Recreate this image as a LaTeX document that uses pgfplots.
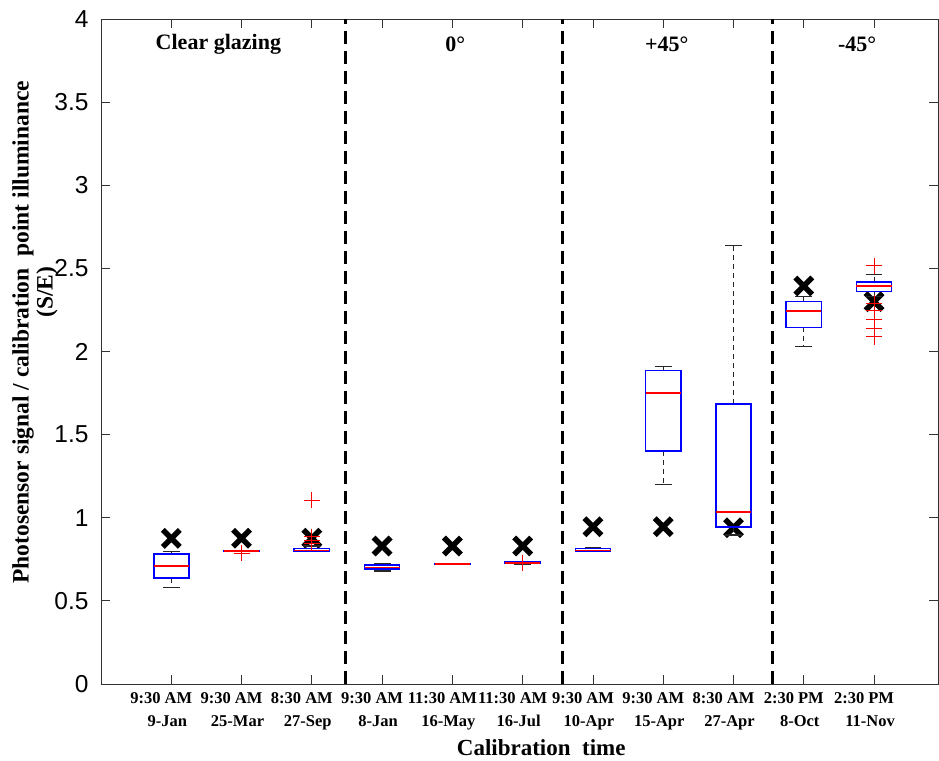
\documentclass[border=0pt]{standalone}
\usepackage{fontspec}
\setmainfont{Liberation Serif}
\newfontfamily\arialfont{Liberation Sans}
\usepackage{pgfplots}
\pgfplotsset{compat=1.18}
\usepgfplotslibrary{statistics}

\pgfplotsset{
  boxplot/draw/whisker/.code 2 args={%
    \draw[black!85, dash pattern=on 5pt off 4pt, line width=0.9pt]
      (boxplot box cs:#1,0.5) --
      (boxplot box cs:#2,0.5);
    \draw[black!85, line width=1.2pt]
      (boxplot whisker cs:#2,0) --
      (boxplot whisker cs:#2,1);
  },
  mybox/.style={color=blue, draw=blue, solid, mark=+, mark size=8pt,
     mark options={red, line width=0.9pt, solid},
     boxplot/draw direction=y,
     boxplot/every box/.style={draw=blue, line width=1.6pt},
     boxplot/every median/.style={draw=red, line width=1.6pt},
     boxplot/box extend=0.5, boxplot/whisker extend=0.24},
}

\begin{document}
\begin{tikzpicture}
\begin{axis}[
  scale only axis, width=837pt, height=665pt,
  xmin=0, xmax=11.91, ymin=0, ymax=4,
  clip mode=individual,
  xtick={1,2,3,4,5,6,7,8,9,10,11},
  xticklabels={{9:30 AM\hspace*{12pt}\\9-Jan},{9:30 AM\hspace*{12pt}\\25-Mar},{8:30 AM\hspace*{12pt}\\27-Sep},{9:30 AM\hspace*{12pt}\\8-Jan},{11:30 AM\hspace*{12pt}\\16-May},{11:30 AM\hspace*{12pt}\\16-Jul},{9:30 AM\hspace*{12pt}\\10-Apr},{9:30 AM\hspace*{12pt}\\15-Apr},{8:30 AM\hspace*{12pt}\\27-Apr},{2:30 PM\hspace*{12pt}\\8-Oct},{2:30 PM\hspace*{12pt}\\11-Nov}},
  xticklabel style={align=center, font=\bfseries\fontsize{16.5}{23}\selectfont, xshift=-4pt, yshift=-5pt},
  ytick={0,0.5,1,1.5,2,2.5,3,3.5,4},
  yticklabels={0,0.5,1,1.5,2,2.5,3,3.5,4},
  yticklabel style={font=\arialfont\fontsize{24.5}{24.5}\selectfont},
  yticklabel shift=9pt,
  /pgf/number format/assume math mode=true,
  major tick length=9pt,
  every tick/.style={black!80, line width=0.8pt},
  axis line style={black!80, line width=0.8pt},
  xlabel={Calibration\ \ time},
  xlabel style={font=\bfseries\fontsize{23}{23}\selectfont, at={(rel axis cs:0.526,0)}, anchor=center, yshift=-64pt},
  ylabel={Photosensor signal / calibration\ \ point illuminance\\\hspace*{80pt}(S/E)},
  ylabel style={font=\bfseries\fontsize{23.5}{24}\selectfont, align=center, at={(rel axis cs:0,0.529)}, anchor=center, yshift=66pt},
]
% group separators
\addplot[black, line width=2.8pt, dash pattern=on 13pt off 7pt] coordinates {(3.48,0) (3.48,4)};
\addplot[black, line width=2.8pt, dash pattern=on 13pt off 7pt] coordinates {(6.57,0) (6.57,4)};
\addplot[black, line width=2.8pt, dash pattern=on 13pt off 7pt] coordinates {(9.55,0) (9.55,4)};

% calibration point markers
\addplot[only marks, mark=x, mark size=12pt, line width=5.5pt, black] coordinates {
(1,0.876) (2,0.877) (3,0.877) (4,0.83) (5,0.83) (6,0.83) (7,0.946) (8,0.946) (9,0.94) (10,2.394) (11,2.30)};

% box plots
\addplot[mybox, boxplot prepared={draw position=1, lower whisker=0.58, lower quartile=0.636, median=0.71, upper quartile=0.782, upper whisker=0.798}] coordinates {};
\addplot[mybox, boxplot prepared={draw position=2, lower whisker=0.798, lower quartile=0.799, median=0.80, upper quartile=0.801, upper whisker=0.802}] table[row sep=\\, y index=0] {data\\0.785\\};
\addplot[mybox, boxplot prepared={draw position=3, lower whisker=0.797, lower quartile=0.798, median=0.804, upper quartile=0.814, upper whisker=0.83}] table[row sep=\\, y index=0] {data\\1.105\\0.886\\0.866\\0.846\\};
\addplot[mybox, boxplot prepared={draw position=4, lower whisker=0.68, lower quartile=0.69, median=0.70, upper quartile=0.714, upper whisker=0.725}] coordinates {};
\addplot[mybox, boxplot prepared={draw position=5, lower whisker=0.72, lower quartile=0.721, median=0.723, upper quartile=0.725, upper whisker=0.726}] coordinates {};
\addplot[mybox, boxplot prepared={draw position=6, lower whisker=0.722, lower quartile=0.725, median=0.727, upper quartile=0.733, upper whisker=0.738}] table[row sep=\\, y index=0] {data\\0.725\\};
\addplot[mybox, boxplot prepared={draw position=7, lower whisker=0.80, lower quartile=0.80, median=0.804, upper quartile=0.816, upper whisker=0.82}] coordinates {};
\addplot[mybox, boxplot prepared={draw position=8, lower whisker=1.20, lower quartile=1.40, median=1.752, upper quartile=1.885, upper whisker=1.91}] coordinates {};
\addplot[mybox, boxplot prepared={draw position=9, lower whisker=0.896, lower quartile=0.946, median=1.036, upper quartile=1.686, upper whisker=2.636}] coordinates {};
\addplot[mybox, boxplot prepared={draw position=10, lower whisker=2.03, lower quartile=2.145, median=2.245, upper quartile=2.30, upper whisker=2.33}] coordinates {};
\addplot[mybox, boxplot prepared={draw position=11, lower whisker=2.33, lower quartile=2.36, median=2.394, upper quartile=2.418, upper whisker=2.465}] table[row sep=\\, y index=0] {data\\2.515\\2.29\\2.245\\2.193\\2.14\\2.089\\};

% group labels
\node[font=\bfseries\fontsize{22}{22}\selectfont] at (axis cs:1.67,3.85) {Clear glazing};
\node[font=\bfseries\fontsize{22}{22}\selectfont] at (axis cs:5.04,3.85) {0°};
\node[font=\bfseries\fontsize{22}{22}\selectfont] at (axis cs:8.05,3.85) {+45°};
\node[font=\bfseries\fontsize{22}{22}\selectfont] at (axis cs:10.76,3.85) {-45°};
\end{axis}
\pgfresetboundingbox
\path ([shift={(-101pt,-76pt)}]current axis.south west) rectangle ([shift={(1pt,19pt)}]current axis.north east);
\end{tikzpicture}
\end{document}
